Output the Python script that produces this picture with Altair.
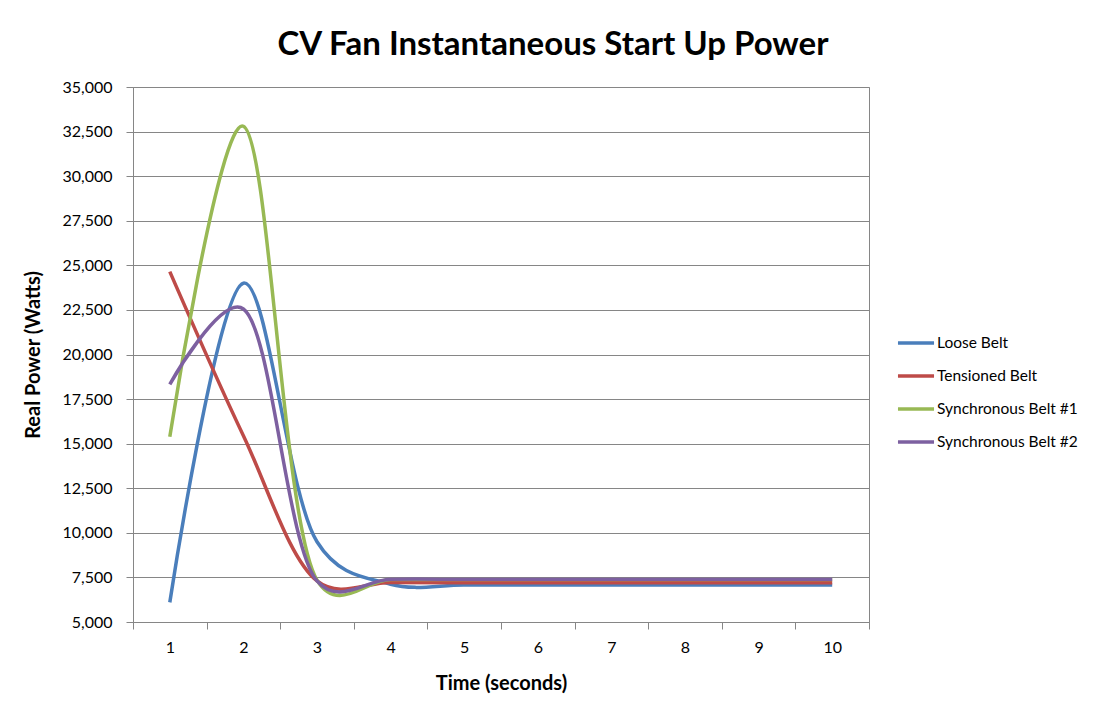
import altair as alt
import pandas as pd

# ---- data ----
time_s = [1, 2, 3, 4, 5, 6, 7, 8, 9, 10]
loose_belt = [6100, 24000, 9500, 7120, 7080, 7080, 7080, 7080, 7080, 7080]
tensioned_belt = [24650, 15450, 7300, 7220, 7200, 7200, 7200, 7200, 7200, 7200]
sync_belt_1 = [15390, 32800, 7350, 7380, 7380, 7380, 7380, 7380, 7380, 7380]
sync_belt_2 = [18330, 22550, 7300, 7400, 7400, 7400, 7400, 7400, 7400, 7400]

series_names = ["Loose Belt", "Tensioned Belt", "Synchronous Belt #1", "Synchronous Belt #2"]
series_values = [loose_belt, tensioned_belt, sync_belt_1, sync_belt_2]
series_colors = ["#4A7EBB", "#BE4B48", "#98B954", "#7D60A0"]
y_ticks = list(range(5000, 35001, 2500))

rows = []
for order, (name, vals) in enumerate(zip(series_names, series_values)):
    for t, v in zip(time_s, vals):
        rows.append({"Time": t, "Power": v, "Series": name, "order": order})
df = pd.DataFrame(rows)

FONT = "Lato"

chart = (
    alt.Chart(df)
    .mark_line(interpolate="catmull-rom", tension=0.27, strokeWidth=3.5)
    .encode(
        x=alt.X(
            "Time:O",
            bandPosition=0.5,
            scale=alt.Scale(type="band", paddingInner=0, paddingOuter=0),
            axis=alt.Axis(
                title="Time (seconds)",
                labelAngle=0,
                tickBand="extent",
                tickSize=7,
                labelPadding=10,
                titlePadding=18,
                grid=False,
            ),
        ),
        y=alt.Y(
            "Power:Q",
            scale=alt.Scale(domain=[5000, 35000], nice=False, zero=False),
            axis=alt.Axis(
                title="Real Power (Watts)",
                values=y_ticks,
                format=",.0f",
                tickSize=7,
                labelPadding=14,
                titlePadding=18,
                grid=True,
            ),
        ),
        color=alt.Color(
            "Series:N",
            sort=series_names,
            scale=alt.Scale(domain=series_names, range=series_colors),
            legend=alt.Legend(
                title=None,
                orient="none",
                legendX=763,
                legendY=246,
                symbolType="stroke",
                symbolSize=1300,
                symbolStrokeWidth=3.5,
                clipHeight=20,
                rowPadding=13,
                labelFontSize=15.5,
                labelFont=FONT,
                labelColor="#000000",
                labelOffset=1,
                labelLimit=200,
            ),
        ),
        order=alt.Order("order:Q"),
    )
    .properties(
        width=736,
        height=535,
        title=alt.TitleParams(
            "CV Fan Instantaneous Start Up Power",
            font=FONT,
            fontSize=33,
            fontWeight="bold",
            color="#000000",
            anchor="middle",
            baseline="alphabetic",
            offset=32,
            dx=52,
            dy=41,
        ),
        padding={"left": 125, "top": 79, "right": 217, "bottom": 80},
        autosize=alt.AutoSizeParams(type="none"),
    )
    .configure_view(stroke="#868686", strokeWidth=1)
    .configure_axis(
        labelFont=FONT,
        labelFontSize=16,
        labelColor="#000000",
        titleFont=FONT,
        titleFontSize=20,
        titleFontWeight="bold",
        titleColor="#000000",
        domainColor="#868686",
        tickColor="#868686",
        gridColor="#868686",
        gridWidth=1,
        domainWidth=1,
    )
)

chart.save("out.html", embed_options={"renderer": "svg", "actions": False})
